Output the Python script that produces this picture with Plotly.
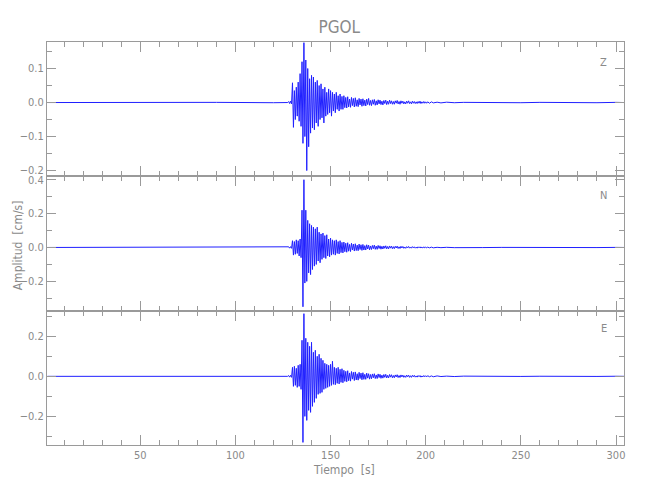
import plotly.graph_objects as go
from plotly.subplots import make_subplots

# ---------------- data ----------------
station = "PGOL"
components = ["Z", "N", "E"]

# event window, one (max, min) pair per second
event_t = list(range(128, 201))

z_hi = [0.003, 0.004, 0.058, 0.035, 0.045, 0.060, 0.085, 0.120, 0.176, 0.125,
        0.100, 0.070, 0.080, 0.075, 0.060, 0.065, 0.050, 0.055, 0.040, 0.045,
        0.030, 0.040, 0.035, 0.030, 0.025, 0.030, 0.020, 0.025, 0.018, 0.020,
        0.015, 0.017, 0.010, 0.015, 0.012, 0.014, 0.008, 0.012, 0.010, 0.011,
        0.007, 0.010, 0.012, 0.006, 0.008, 0.009, 0.005, 0.008, 0.007, 0.004,
        0.006, 0.007, 0.004, 0.007, 0.005, 0.003, 0.005, 0.006, 0.003, 0.005,
        0.004, 0.002, 0.004, 0.005, 0.002, 0.004, 0.003, 0.002, 0.003, 0.004,
        0.002, 0.003, 0.002]
z_lo = [-0.003, -0.004, -0.073, -0.050, -0.040, -0.055, -0.070, -0.120, -0.100, -0.200,
        -0.130, -0.090, -0.075, -0.080, -0.060, -0.070, -0.050, -0.045, -0.060, -0.040,
        -0.035, -0.030, -0.040, -0.025, -0.030, -0.020, -0.025, -0.020, -0.020, -0.015,
        -0.016, -0.013, -0.014, -0.009, -0.013, -0.011, -0.012, -0.007, -0.011, -0.009,
        -0.010, -0.006, -0.008, -0.009, -0.005, -0.008, -0.007, -0.004, -0.006, -0.007,
        -0.003, -0.006, -0.005, -0.003, -0.005, -0.005, -0.002, -0.004, -0.005, -0.002,
        -0.004, -0.004, -0.002, -0.003, -0.004, -0.002, -0.003, -0.003, -0.002, -0.003,
        -0.002, -0.002, -0.002]

n_hi = [0.004, 0.005, 0.040, 0.035, 0.045, 0.040, 0.050, 0.220, 0.400, 0.220,
        0.160, 0.140, 0.130, 0.120, 0.110, 0.120, 0.090, 0.080, 0.085, 0.070,
        0.075, 0.050, 0.055, 0.045, 0.040, 0.045, 0.035, 0.040, 0.030, 0.032,
        0.025, 0.028, 0.018, 0.025, 0.020, 0.022, 0.014, 0.020, 0.016, 0.018,
        0.011, 0.016, 0.014, 0.009, 0.012, 0.014, 0.008, 0.012, 0.010, 0.007,
        0.009, 0.010, 0.006, 0.009, 0.008, 0.005, 0.007, 0.008, 0.004, 0.007,
        0.006, 0.003, 0.005, 0.006, 0.003, 0.005, 0.004, 0.002, 0.004, 0.004,
        0.002, 0.004, 0.003]
n_lo = [-0.004, -0.005, -0.045, -0.040, -0.035, -0.050, -0.060, -0.350, -0.210, -0.200,
        -0.150, -0.160, -0.130, -0.110, -0.100, -0.080, -0.090, -0.070, -0.060, -0.065,
        -0.050, -0.055, -0.045, -0.040, -0.045, -0.035, -0.038, -0.030, -0.032, -0.025,
        -0.028, -0.022, -0.024, -0.015, -0.021, -0.018, -0.019, -0.012, -0.017, -0.015,
        -0.015, -0.009, -0.014, -0.012, -0.007, -0.011, -0.011, -0.006, -0.010, -0.009,
        -0.005, -0.008, -0.008, -0.004, -0.007, -0.007, -0.003, -0.006, -0.006, -0.003,
        -0.005, -0.005, -0.002, -0.004, -0.004, -0.002, -0.004, -0.004, -0.002, -0.003,
        -0.003, -0.002, -0.003]

e_hi = [0.004, 0.005, 0.045, 0.050, 0.040, 0.055, 0.060, 0.180, 0.313, 0.190,
        0.170, 0.150, 0.170, 0.120, 0.130, 0.100, 0.110, 0.090, 0.080, 0.065,
        0.060, 0.055, 0.060, 0.075, 0.045, 0.040, 0.045, 0.035, 0.038, 0.030,
        0.025, 0.028, 0.017, 0.024, 0.020, 0.022, 0.013, 0.020, 0.016, 0.018,
        0.010, 0.016, 0.013, 0.009, 0.012, 0.013, 0.007, 0.012, 0.010, 0.006,
        0.009, 0.010, 0.005, 0.009, 0.008, 0.004, 0.007, 0.008, 0.004, 0.007,
        0.006, 0.003, 0.006, 0.006, 0.003, 0.005, 0.005, 0.002, 0.004, 0.004,
        0.002, 0.004, 0.003]
e_lo = [-0.004, -0.005, -0.050, -0.045, -0.055, -0.050, -0.065, -0.330, -0.200, -0.220,
        -0.170, -0.180, -0.150, -0.130, -0.110, -0.090, -0.085, -0.080, -0.065, -0.060,
        -0.055, -0.050, -0.045, -0.040, -0.042, -0.035, -0.038, -0.030, -0.032, -0.025,
        -0.027, -0.022, -0.024, -0.014, -0.021, -0.018, -0.019, -0.011, -0.017, -0.015,
        -0.015, -0.009, -0.014, -0.012, -0.007, -0.011, -0.011, -0.006, -0.010, -0.009,
        -0.005, -0.008, -0.008, -0.004, -0.007, -0.007, -0.003, -0.006, -0.006, -0.003,
        -0.005, -0.005, -0.002, -0.005, -0.005, -0.002, -0.004, -0.004, -0.002, -0.004,
        -0.003, -0.002, -0.003]

# quiet background before the event and after the coda (essentially flat)
pre_t = [1.3, 30, 60, 90, 120, 127.5]
z_pre = [0.0, 0.0005, -0.0005, 0.0005, -0.0005, 0.0]
n_pre = [0.0, 0.0005, -0.0005, 0.0005, -0.0005, 0.0]
e_pre = [0.0, 0.0005, -0.0005, 0.0005, -0.0005, 0.0]

tail_t = [201, 202, 203, 204, 206, 208, 211, 215, 220, 230, 240, 250, 260, 270,
          280, 290, 300, 304.2]
z_tail = [0.002, -0.002, 0.002, -0.001, 0.001, -0.001, 0.001, -0.0005, 0.0005, -0.0005,
          0.0005, -0.0005, 0.0005, -0.0005, 0.0005, -0.0005, 0.0005, 0.0]
n_tail = [0.002, -0.002, 0.002, -0.002, 0.001, -0.001, 0.001, -0.001, 0.0005, -0.0005,
          0.0005, -0.0005, 0.0005, -0.0005, 0.0005, -0.0005, 0.0005, 0.0]
e_tail = [0.003, -0.002, 0.002, -0.002, 0.002, -0.001, 0.001, -0.001, 0.001, -0.0005,
          0.0005, -0.0005, 0.0005, -0.0005, 0.0005, -0.0005, 0.0005, 0.0]

y_ranges = [[-0.217, 0.178], [-0.373, 0.42], [-0.343, 0.328]]
y_dticks = [0.1, 0.2, 0.2]
y_minor = [0.05, 0.1, 0.1]
x_range = [1.0, 304.2]

series = {
    "Z": (z_pre, z_hi, z_lo, z_tail),
    "N": (n_pre, n_hi, n_lo, n_tail),
    "E": (e_pre, e_hi, e_lo, e_tail),
}

# ---------------- figure ----------------
GRAY = "#9a9a9a"
TXT = "#8a8a8a"
FONT = "Liberation Sans Narrow, DejaVu Sans Condensed, Liberation Sans, sans-serif"

fig = make_subplots(rows=3, cols=1, shared_xaxes=True, vertical_spacing=0)

for i, comp in enumerate(components):
    pre, hi, lo, tail = series[comp]
    xs = list(pre_t)
    ys = list(pre)
    for t, h, l in zip(event_t, hi, lo):
        xs += [t, t + 0.5]
        ys += [h, l]
    xs += tail_t
    ys += tail
    fig.add_trace(go.Scatter(x=xs, y=ys, mode="lines",
                             line=dict(color="#2020ff", width=1.0),
                             showlegend=False, hoverinfo="skip"),
                  row=i + 1, col=1)

for i in range(3):
    fig.update_yaxes(range=y_ranges[i], dtick=y_dticks[i], tick0=0,
                     tickformat=".1f",
                     showline=True, linecolor=GRAY, linewidth=1, mirror="allticks",
                     ticks="inside", ticklen=9, tickcolor=GRAY, tickwidth=1,
                     minor=dict(dtick=y_minor[i], tick0=0, ticks="inside", ticklen=5,
                                tickcolor=GRAY, tickwidth=1, showgrid=False),
                     showgrid=False, zeroline=False,
                     tickfont=dict(family=FONT, size=11, color=TXT),
                     row=i + 1, col=1)
    fig.update_xaxes(range=x_range, dtick=50, tick0=0,
                     showline=True, linecolor=GRAY, linewidth=1, mirror="allticks",
                     ticks="inside", ticklen=10, tickcolor=GRAY, tickwidth=1,
                     minor=dict(dtick=10, tick0=0, ticks="inside", ticklen=5,
                                tickcolor=GRAY, tickwidth=1, showgrid=False),
                     showgrid=False, zeroline=False,
                     tickfont=dict(family=FONT, size=11, color=TXT),
                     row=i + 1, col=1)

label_y = [0.950, 0.618, 0.288]
annotations = []
for comp, yy in zip(components, label_y):
    annotations.append(dict(text=comp, x=0.965, y=yy, xref="paper", yref="paper",
                            showarrow=False, xanchor="center", yanchor="middle",
                            font=dict(family=FONT, size=11, color=TXT)))
annotations.append(dict(text="Tiempo  [s]", x=0.514, y=-0.062, xref="paper", yref="paper",
                        showarrow=False, xanchor="center", yanchor="middle",
                        font=dict(family=FONT, size=12, color=TXT)))
annotations.append(dict(text="Amplitud  [cm/s]", x=-0.050, y=0.496, xref="paper", yref="paper",
                        showarrow=False, xanchor="center", yanchor="middle", textangle=-90,
                        font=dict(family=FONT, size=12, color=TXT)))

# the page body adds an 8 px offset, so the figure is 642x492 placed at (8, 8)
fig.update_layout(
    width=642, height=492,
    margin=dict(l=39, r=26, t=34, b=55),
    paper_bgcolor="white", plot_bgcolor="white",
    title=dict(text=station, x=0.516, xanchor="center", y=0.961, yanchor="middle",
               yref="container",
               font=dict(family=FONT, size=17, color=TXT)),
    annotations=annotations,
)

fig.write_html("out.html")
